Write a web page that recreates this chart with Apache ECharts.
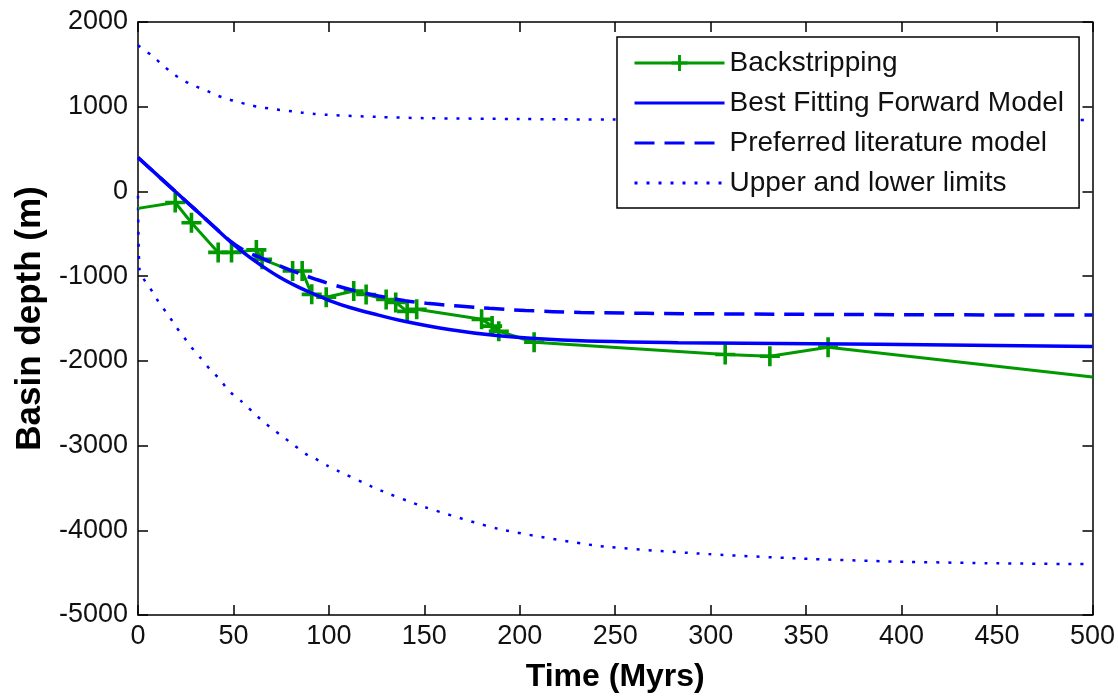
<!DOCTYPE html>
<html>
<head>
<meta charset="utf-8">
<script src="https://cdn.jsdelivr.net/npm/echarts/dist/echarts.min.js"></script>
<style>
html,body{margin:0;padding:0;background:#fff;}
#chart{width:1118px;height:698px;}
</style>
</head>
<body>
<div id="chart"></div>
<script>
// ---- data ----
var xTicks = [0, 50, 100, 150, 200, 250, 300, 350, 400, 450, 500];
var yTicks = [-5000, -4000, -3000, -2000, -1000, 0, 1000, 2000];

var backTime  = [0, 19.5, 28, 42, 49, 62, 65, 81, 86, 91, 98.6, 113, 119.5, 130, 135, 141, 146, 180, 185.5, 189, 207.5, 307.6, 331, 361.5, 500];
var backDepth = [-200, -130, -370, -720, -720, -690, -800, -940, -940, -1215, -1250, -1176, -1217, -1275, -1310, -1416, -1390, -1510, -1590, -1650, -1780, -1925, -1945, -1840, -2190];

var bestTime  = [0, 10, 20, 30, 40, 48, 56, 65, 74, 83, 90, 100, 111, 126, 137, 163, 189, 215, 241, 283, 388, 500];
var bestDepth = [400, 195, -10, -215, -420, -585, -735, -880, -1010, -1118, -1190, -1285, -1370, -1460, -1520, -1630, -1705, -1745, -1770, -1785, -1805, -1830];

var litTime  = [0, 10, 20, 30, 40, 48, 56, 65, 74, 83, 93.5, 102, 115, 126, 140, 151, 168, 184, 203, 232, 300, 400, 500];
var litDepth = [400, 195, -10, -215, -420, -580, -700, -790, -875, -955, -1040, -1100, -1180, -1235, -1290, -1320, -1353, -1380, -1405, -1428, -1445, -1455, -1460];

var upperTime  = [0, 7, 13, 18, 23.5, 30, 36, 41, 47, 52, 58.5, 64, 70, 75, 81, 86, 92.5, 98.6, 125, 150, 200, 250, 300, 400, 500];
var upperDepth = [1725, 1608, 1490, 1396, 1314, 1243, 1188, 1137, 1090, 1059, 1020, 995, 975, 960, 945, 930, 915, 905, 880, 865, 855, 848, 845, 842, 842];

var lowerTime  = [0, 0.8, 3.7, 7.9, 11.5, 15.7, 19.3, 23.5, 28, 32.4, 37.6, 42.8, 47.5, 53.8, 59.4, 65, 70.5, 76, 82, 87.8, 93, 99, 125, 150, 189, 241, 294, 346, 398, 450, 500];
var lowerDepth = [-50, -920, -1060, -1194, -1333, -1450, -1580, -1705, -1840, -1956, -2098, -2215, -2353, -2470, -2588, -2706, -2804, -2898, -3000, -3098, -3157, -3235, -3510, -3725, -3984, -4184, -4275, -4333, -4370, -4390, -4400];

var seriesNames = ['Backstripping', 'Best Fitting Forward Model', 'Preferred literature model', 'Upper and lower limits'];

function pairs(ts, ds) { return ts.map(function (t, i) { return [t, ds[i]]; }); }

var backData = pairs(backTime, backDepth).map(function (p, i, arr) {
  if (i === 0 || i === arr.length - 1) return { value: p, symbol: 'none' };
  return { value: p };
});

var FONT = '"Liberation Sans", Arial, Helvetica, sans-serif';
var PLUS = 'path://M-0.18,-1 L0.18,-1 L0.18,-0.18 L1,-0.18 L1,0.18 L0.18,0.18 L0.18,1 L-0.18,1 L-0.18,0.18 L-1,0.18 L-1,-0.18 L-0.18,-0.18 Z';
var GREEN = '#009a00';
var BLUE = '#0000ff';

var chart = echarts.init(document.getElementById('chart'), null, { renderer: 'canvas' });

var axisLineStyle = { color: '#000', width: 1.5 };
function plain(v) { return String(v); }

var option = {
  animation: false,
  backgroundColor: '#fff',
  grid: { left: 138, right: 23, top: 22, bottom: 82, containLabel: false },
  xAxis: [
    {
      type: 'value', min: 0, max: 500, interval: 50, position: 'bottom',
      name: 'Time (Myrs)', nameLocation: 'middle', nameGap: 46,
      nameTextStyle: { fontFamily: FONT, fontSize: 32, fontWeight: 'bold', color: '#000' },
      axisLine: { show: true, onZero: false, lineStyle: axisLineStyle },
      axisTick: { show: true, inside: true, length: 10, lineStyle: axisLineStyle },
      axisLabel: { fontFamily: FONT, fontSize: 27, color: '#111', margin: 8, formatter: plain },
      splitLine: { show: false }
    },
    {
      type: 'value', min: 0, max: 500, interval: 50, position: 'top',
      axisLine: { show: true, onZero: false, lineStyle: axisLineStyle },
      axisTick: { show: true, inside: true, length: 10, lineStyle: axisLineStyle },
      axisLabel: { show: false }, splitLine: { show: false }
    }
  ],
  yAxis: [
    {
      type: 'value', min: -5000, max: 2000, interval: 1000, position: 'left',
      name: 'Basin depth (m)', nameLocation: 'middle', nameGap: 83, nameRotate: 90,
      nameTextStyle: { fontFamily: FONT, fontSize: 35, fontWeight: 'bold', color: '#000' },
      axisLine: { show: true, onZero: false, lineStyle: axisLineStyle },
      axisTick: { show: true, inside: true, length: 10, lineStyle: axisLineStyle },
      axisLabel: { fontFamily: FONT, fontSize: 27, color: '#111', margin: 10, formatter: plain },
      splitLine: { show: false }
    },
    {
      type: 'value', min: -5000, max: 2000, interval: 1000, position: 'right',
      axisLine: { show: true, onZero: false, lineStyle: axisLineStyle },
      axisTick: { show: true, inside: true, length: 10, lineStyle: axisLineStyle },
      axisLabel: { show: false }, splitLine: { show: false }
    }
  ],
  legend: {
    data: [
      { name: seriesNames[0] },
      { name: seriesNames[1], itemStyle: { opacity: 0 } },
      { name: seriesNames[2], itemStyle: { opacity: 0 } },
      { name: seriesNames[3], itemStyle: { opacity: 0 } }
    ],
    orient: 'vertical',
    left: 617, top: 37,
    padding: [12, 15, 11, 16],
    itemWidth: 90, itemHeight: 20, itemGap: 12,
    backgroundColor: '#fff',
    borderColor: '#000', borderWidth: 1.5, borderRadius: 0,
    lineStyle: { width: 3 },
    textStyle: { fontFamily: FONT, fontSize: 28, color: '#111', lineHeight: 28 },
    selectedMode: false
  },
  series: [
    {
      name: seriesNames[0], type: 'line', xAxisIndex: 0, yAxisIndex: 0,
      data: backData, symbol: PLUS, symbolSize: 20,
      itemStyle: { color: GREEN },
      lineStyle: { color: GREEN, width: 3 }, z: 3
    },
    {
      name: seriesNames[1], type: 'line', data: pairs(bestTime, bestDepth),
      symbol: 'none', smooth: 0.4, itemStyle: { color: BLUE },
      lineStyle: { color: BLUE, width: 3.5 }, z: 4
    },
    {
      name: seriesNames[2], type: 'line', data: pairs(litTime, litDepth),
      symbol: 'none', smooth: 0.4, itemStyle: { color: BLUE },
      lineStyle: { color: BLUE, width: 3.5, type: [20, 10] }, z: 4
    },
    {
      name: seriesNames[3], type: 'line', data: pairs(upperTime, upperDepth),
      symbol: 'none', smooth: 0.3, itemStyle: { color: BLUE },
      lineStyle: { color: BLUE, width: 2.5, type: [3, 9] }, z: 2
    },
    {
      name: seriesNames[3], type: 'line', data: pairs(lowerTime, lowerDepth),
      symbol: 'none', smooth: 0.2, itemStyle: { color: BLUE },
      lineStyle: { color: BLUE, width: 2.5, type: [3, 9] }, z: 2
    }
  ]
};
chart.setOption(option);
</script>
</body>
</html>
